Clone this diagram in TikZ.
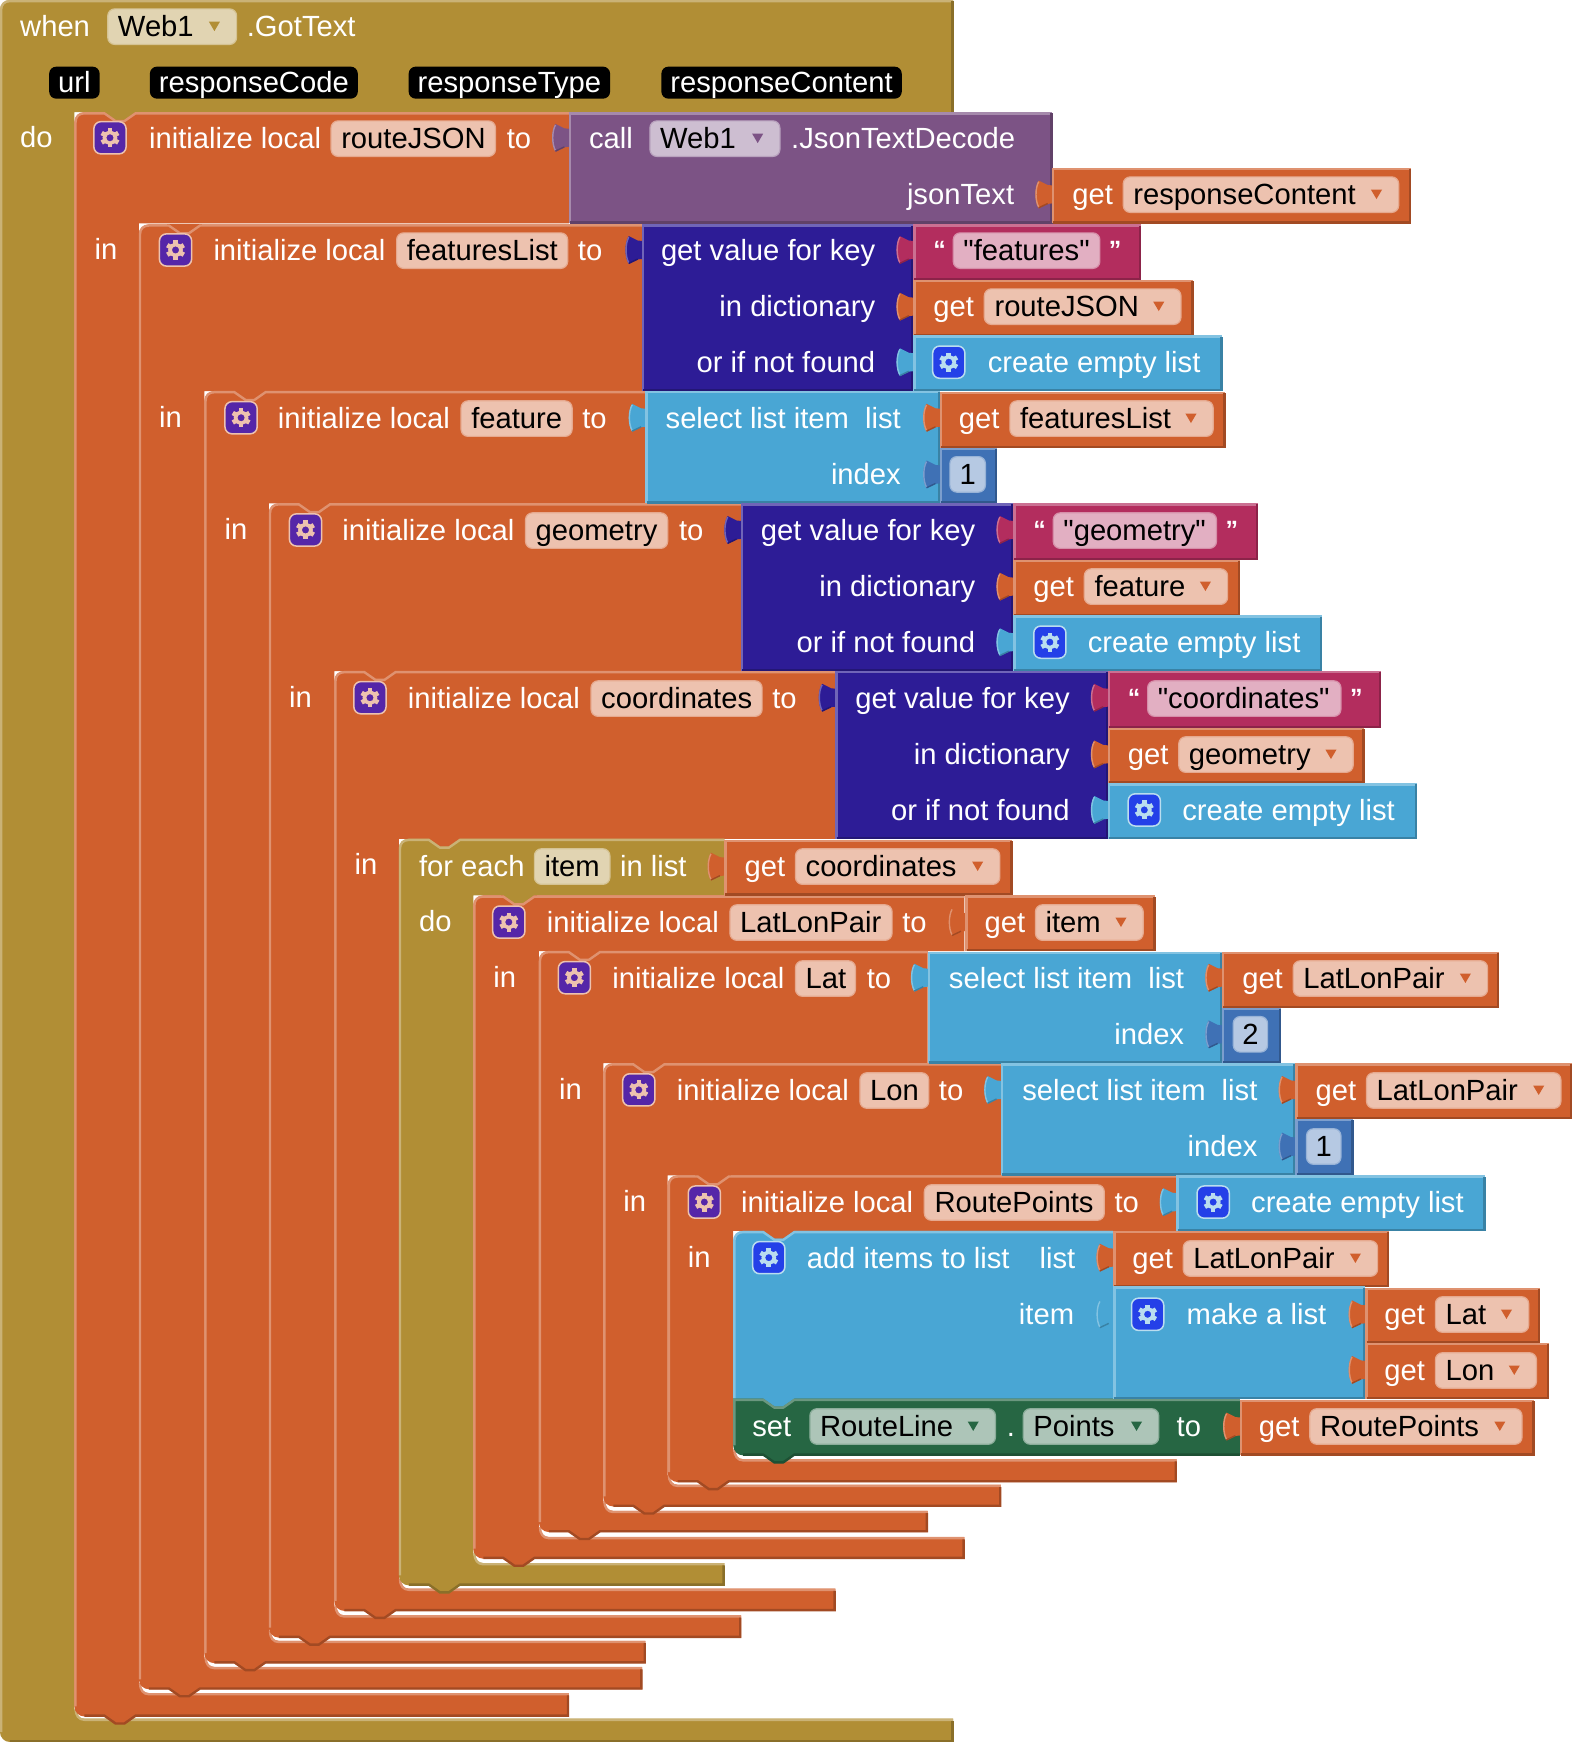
\documentclass[tikz,border=0pt]{standalone}
\usepackage{fontspec}
\newfontfamily\blockfont{Liberation Sans}

\newcommand{\blkcolor}[2]{%
  \definecolor{#1}{HTML}{#2}%
  \colorlet{#1Hi}{#1!68!white}%
  \colorlet{#1Lo}{#1!78!black}%
  \colorlet{#1Fd}{#1!38!white}}
\blkcolor{blkOr}{D05F2D}
\blkcolor{blkOl}{B18E35}
\blkcolor{blkPu}{7C5385}
\blkcolor{blkDk}{2D1C96}
\blkcolor{blkCr}{B32D5E}
\blkcolor{blkBl}{49A6D4}
\blkcolor{blkNm}{3F71B5}
\blkcolor{blkGr}{266643}
\definecolor{gearPu}{HTML}{5526A8}
\definecolor{gearBl}{HTML}{2440E8}

\tikzset{
  edge/.style={line width=2.4pt},
  txt/.style={text=white,anchor=west,inner sep=0pt,text height=20pt,text depth=0pt,font=\blockfont\fontsize{29.2}{34}\selectfont},
  txtr/.style={txt,anchor=east},
  quot/.style={txt,yshift=2.5pt,font=\blockfont\bfseries\fontsize{25}{30}\selectfont},
  fieldtxt/.style={txt,text=black},
  fieldbg/.style={fill=#1Fd,draw=#1Fd!75!#1,line width=1.2pt,rounded corners=7pt},
  argbox/.style={txt,anchor=center,fill=black,rounded corners=7pt,inner xsep=9pt,inner ysep=6pt}
}

% statement with a row on top and a bar below
\newcommand{\stmtblock}[9]{% colour, left, top, right, row bottom, inner x, bar top, bar bottom, colour behind the notch
  \fill[#9] (#2+25,#3-.5) rectangle (#2+57,#3+9);
  \fill[#1] (#2,#3+9) .. controls (#2,#3+4) and (#2+4,#3) .. (#2+9,#3) -- (#2+27,#3) -- (#2+37,#3+7) -- (#2+45,#3+7) -- (#2+55,#3) -- (#4,#3) -- (#4,#5) -- (#6,#5) -- (#6,#7-9) .. controls (#6,#7-4) and (#6+4,#7) .. (#6+9,#7) -- (#4,#7) -- (#4,#8) -- (#2+55,#8) -- (#2+45,#8+7) -- (#2+37,#8+7) -- (#2+27,#8) -- (#2+9,#8) .. controls (#2+4,#8) and (#2,#8-4) .. (#2,#8-9) -- cycle;
  \draw[#1Hi,edge] (#2+1,#8-9) -- (#2+1,#3+9) .. controls (#2+1,#3+4) and (#2+4,#3+1) .. (#2+9,#3+1) -- (#2+27,#3+1) -- (#2+37,#3+8) -- (#2+45,#3+8) -- (#2+55,#3+1) -- (#4,#3+1);
  \draw[#1Hi,edge] (#6+1,#7-9) .. controls (#6+1,#7-3) and (#6+4,#7+1) .. (#6+9,#7+1) -- (#4,#7+1);
  \draw[#1Lo,edge] (#2+9,#8-.7) -- (#2+27,#8-.7) -- (#2+37,#8+6.3) -- (#2+45,#8+6.3) -- (#2+55,#8-.7) -- (#4-.7,#8-.7) -- (#4-.7,#7+2);
}
% value block with its tab on the left
\newcommand{\valblock}[6]{% colour, left, top, right, bottom, tab y
  \fill[#1] (#2,#3) rectangle (#4,#5);
  \fill[#1] (#2+1,#6-8) -- (#2-4,#6-8.5) -- (#2-12,#6-12.5) .. controls (#2-16,#6-6) and (#2-16,#6+6) .. (#2-12,#6+12.5) -- (#2-4,#6+8.5) -- (#2+1,#6+8) -- cycle;
  \draw[#1Hi,edge] (#2+1,#5) -- (#2+1,#3+1) -- (#4,#3+1);
  \draw[#1Hi,line width=1.4pt] (#2-12,#6-11.5) .. controls (#2-15.3,#6-6) and (#2-15.3,#6+6) .. (#2-12,#6+11.5);
  \draw[#1Lo,line width=1.4pt] (#2-12,#6+12) -- (#2-4,#6+8.2);
  \draw[#1Lo,edge] (#2+1,#5-.7) -- (#4-.7,#5-.7) -- (#4-.7,#3+1);
}
\newcommand{\textfield}[6]{% colour, name, left, right, y, text
  \draw[fieldbg=#1] (#3,#5-16) rectangle (#4,#5+16);
  \node[fieldtxt] (#2) at (#3+9,#5) {#6};
}
\newcommand{\dropfield}[6]{% same, with the small arrow
  \textfield{#1}{#2}{#3}{#4}{#5}{#6}
  \fill[#1] (#4-25,#5-4.5) -- (#4-15,#5-4.5) -- (#4-20,#5+4) -- cycle;
}
\newcommand{\gearicon}[5]{% x, y, back, gear, border
  \draw[fill=#3,draw=#5,line width=1.5pt,rounded corners=7pt] (#1-14.5,#2-14.5) rectangle (#1+14.5,#2+14.5);
  \begin{scope}[shift={(#1,#2)}]
    \foreach \a in {30,90,...,330}
      \draw[#4,line width=4.6pt] (\a:5) -- (\a:8.6);
    \draw[#4,line width=3.6pt] (0,0) circle (5);
  \end{scope}
}
\newcommand{\gearor}[2]{\gearicon{#1}{#2}{gearPu}{blkOrFd}{blkOrFd}}
\newcommand{\gearbl}[2]{\gearicon{#1}{#2}{gearBl}{blkBlFd}{blkBlFd}}

\begin{document}
\begin{tikzpicture}[x=1.111pt,y=-1.111pt]
  \useasboundingbox (0,0) rectangle (1415,1568);

  % event block
  \fill[blkOl] (0,9) .. controls (0,4) and (4,0) .. (9,0) -- (858,0) -- (858,101) -- (67,101) -- (67,1538) .. controls (67,1543) and (71,1547) .. (76,1547) -- (858,1547) -- (858,1568) -- (9,1568) .. controls (4,1568) and (0,1564) .. (0,1559) -- cycle;
  \draw[blkOlHi,edge] (1,1559) -- (1,9) .. controls (1,4) and (4,1) .. (9,1) -- (858,1);
  \draw[blkOlHi,edge] (68,1538) .. controls (68,1544) and (71,1548) .. (76,1548) -- (858,1548);
  \draw[blkOlLo,edge] (9,1567.3) -- (857.3,1567.3) -- (857.3,1549);
  \draw[blkOlLo,edge] (857.3,1) -- (857.3,101);

  % nested statements, outer first
  \stmtblock{blkOr}{67}{101}{512}{201}{125}{1524}{1545}{blkOl}
  \stmtblock{blkOr}{125}{202}{578}{352}{184}{1500.5}{1520.5}{blkOr}
  \stmtblock{blkOr}{184}{352}{581}{453}{242}{1477}{1497}{blkOr}
  \stmtblock{blkOr}{242}{453}{667}{604}{301}{1454}{1474}{blkOr}
  \stmtblock{blkOr}{301}{604}{752}{755}{359}{1430}{1450}{blkOr}
  \stmtblock{blkOl}{359}{755}{652}{806}{426}{1407}{1427}{blkOr}
  \stmtblock{blkOr}{426}{806}{868}{856}{485}{1383.5}{1403}{blkOl}
  \stmtblock{blkOr}{485}{856}{835}{957}{543}{1360}{1379}{blkOr}
  \stmtblock{blkOr}{543}{957}{901}{1058}{601}{1336.5}{1356}{blkOr}
  \stmtblock{blkOr}{601}{1058}{1059}{1108}{660}{1313.5}{1334}{blkOr}

  % add items
  \fill[blkOr] (685,1107.5) rectangle (717,1117);
  \fill[blkBl] (660,1117) .. controls (660,1112) and (664,1108) .. (669,1108) -- (687,1108) -- (697,1115) -- (705,1115) -- (715,1108) -- (1002,1108) -- (1002,1268) -- (660,1268) -- cycle;
  \draw[blkBlHi,edge] (661,1259) -- (661,1117) .. controls (661,1112) and (664,1109) .. (669,1109) -- (687,1109) -- (697,1116) -- (705,1116) -- (715,1109) -- (1002,1109);
  % set
  \fill[blkGr] (660,1259) -- (687,1259) -- (697,1266) -- (705,1266) -- (715,1259) -- (1116,1259) -- (1116,1310) -- (715,1310) -- (705,1317) -- (697,1317) -- (687,1310) -- (669,1310) .. controls (664,1310) and (660,1306) .. (660,1301) -- cycle;
  \draw[blkGrHi,edge] (661,1301) -- (661,1260) -- (687,1260) -- (697,1267) -- (705,1267) -- (715,1260) -- (1116,1260);
  \draw[blkGrLo,edge] (669,1309.3) -- (687,1309.3) -- (697,1316.3) -- (705,1316.3) -- (715,1309.3) -- (1116,1309.3);

  % value blocks
  \valblock{blkPu}{512}{101}{947}{201}{124}
  \valblock{blkOr}{947}{151}{1270}{201}{175}
  \valblock{blkDk}{578}{202}{822}{352}{225}
  \valblock{blkCr}{822}{202}{1027}{252}{225}
  \valblock{blkOr}{822}{252}{1074}{302}{276}
  \valblock{blkBl}{822}{302}{1100}{352}{326}
  \valblock{blkBl}{581}{352}{846}{453}{376}
  \valblock{blkOr}{846}{353}{1103}{403}{376}
  \valblock{blkNm}{846}{403}{897}{453}{427}
  \valblock{blkDk}{667}{453}{912}{604}{477}
  \valblock{blkCr}{912}{453}{1132}{504}{477}
  \valblock{blkOr}{912}{504}{1116}{554}{528}
  \valblock{blkBl}{912}{554}{1190}{604}{578}
  \valblock{blkDk}{752}{604}{997}{755}{628}
  \valblock{blkCr}{997}{604}{1243}{655}{628}
  \valblock{blkOr}{997}{655}{1228}{705}{679}
  \valblock{blkBl}{997}{705}{1275}{755}{729}
  \valblock{blkOr}{652}{756}{911}{806}{780}
  \valblock{blkOr}{869}{806}{1040}{856}{830}
  \valblock{blkBl}{835}{857}{1100}{957}{880}
  \valblock{blkOr}{1100}{857}{1349}{907}{880}
  \valblock{blkNm}{1100}{907}{1153}{957}{931}
  \valblock{blkBl}{901}{957}{1166}{1058}{981}
  \valblock{blkOr}{1166}{957}{1415}{1007}{981}
  \valblock{blkNm}{1166}{1007}{1218}{1058}{1032}
  \valblock{blkBl}{1059}{1058}{1337}{1108}{1082}
  \valblock{blkOr}{1002}{1108}{1250}{1158}{1132}
  \valblock{blkBl}{1002}{1158}{1229}{1259}{1183}
  \valblock{blkOr}{1229}{1159}{1386}{1209}{1183}
  \valblock{blkOr}{1229}{1209}{1394}{1259}{1233}
  \valblock{blkOr}{1116}{1260}{1381}{1310}{1284}

  % when row
  \node[txt] (whenlbl) at (18,24) {when};
  \dropfield{blkOl}{webA}{97}{213}{24}{Web1}
  \node[txt] (gottext) at (222,24) {.GotText};
  \node[argbox] (argurl) at (67,74.4) {url};
  \node[argbox] (argcode) at (228.5,74.4) {responseCode};
  \node[argbox] (argtype) at (458.5,74.4) {responseType};
  \node[argbox] (argcontent) at (703.5,74.4) {responseContent};
  \node[txt] (dolblA) at (18,124) {do};

  % routeJSON
  \gearor{99}{124}
  \node[txt] (initA) at (134,124.8) {initialize local};
  \textfield{blkOr}{nameA}{298}{446}{124.8}{routeJSON}
  \node[txt] (toA) at (456,124.8) {to};
  \node[txt] (calllbl) at (530,124.8) {call};
  \dropfield{blkPu}{webB}{585}{702}{124.8}{Web1}
  \node[txt] (decode) at (712,124.8) {.JsonTextDecode};
  \node[txtr] (jsontext) at (913,175.2) {jsonText};
  \node[txt] (getA) at (965,175.2) {get};
  \dropfield{blkOr}{varA}{1011}{1259}{175.2}{responseContent}

  % featuresList
  \node[txt] (inA) at (85,224.6) {in};
  \gearor{158}{225}
  \node[txt] (initB) at (192,225.6) {initialize local};
  \textfield{blkOr}{nameB}{357}{511}{225.6}{featuresList}
  \node[txt] (toB) at (520,225.6) {to};
  \node[txtr] (keyA) at (788,225.6) {get value for key};
  \node[quot] (qlA) at (840,225.6) {“};
  \textfield{blkCr}{strA}{858}{990}{225.6}{"features"}
  \node[quot] (qrA) at (998,225.6) {”};
  \node[txtr] (dictA) at (788,276) {in dictionary};
  \node[txt] (getB) at (840,276) {get};
  \dropfield{blkOr}{varB}{886}{1063}{276}{routeJSON}
  \node[txtr] (notfA) at (788,326.4) {or if not found};
  \gearbl{854}{326}
  \node[txt] (emptyA) at (889,326.4) {create empty list};

  % feature
  \node[txt] (inB) at (143,375.8) {in};
  \gearor{217}{376}
  \node[txt] (initC) at (250,376.8) {initialize local};
  \textfield{blkOr}{nameC}{415}{515}{376.8}{feature}
  \node[txt] (toC) at (524,376.8) {to};
  \node[txtr] (selA) at (811,376.8) {select list item\hspace{8pt} list};
  \node[txt] (getC) at (863,376.8) {get};
  \dropfield{blkOr}{varC}{909}{1092}{376.8}{featuresList}
  \node[txtr] (idxA) at (811,427.2) {index};
  \draw[fieldbg=blkNm] (855,411) rectangle (887,443);
  \node[fieldtxt,anchor=center] (numA) at (871,427.2) {1};

  % geometry
  \node[txt] (inC) at (202,476.6) {in};
  \gearor{275}{477}
  \node[txt] (initD) at (308,477.6) {initialize local};
  \textfield{blkOr}{nameD}{473}{601}{477.6}{geometry}
  \node[txt] (toD) at (611,477.6) {to};
  \node[txtr] (keyB) at (878,477.6) {get value for key};
  \node[quot] (qlB) at (930,477.6) {“};
  \textfield{blkCr}{strB}{948}{1095}{477.6}{"geometry"}
  \node[quot] (qrB) at (1103,477.6) {”};
  \node[txtr] (dictB) at (878,528) {in dictionary};
  \node[txt] (getD) at (930,528) {get};
  \dropfield{blkOr}{varD}{976}{1105}{528}{feature}
  \node[txtr] (notfB) at (878,578.4) {or if not found};
  \gearbl{945}{578}
  \node[txt] (emptyB) at (979,578.4) {create empty list};

  % coordinates
  \node[txt] (inD) at (260,627.8) {in};
  \gearor{333}{628}
  \node[txt] (initE) at (367,628.8) {initialize local};
  \textfield{blkOr}{nameE}{532}{686}{628.8}{coordinates}
  \node[txt] (toE) at (695,628.8) {to};
  \node[txtr] (keyC) at (963,628.8) {get value for key};
  \node[quot] (qlC) at (1015,628.8) {“};
  \textfield{blkCr}{strC}{1033}{1207}{628.8}{"coordinates"}
  \node[quot] (qrC) at (1215,628.8) {”};
  \node[txtr] (dictC) at (963,679.2) {in dictionary};
  \node[txt] (getE) at (1015,679.2) {get};
  \dropfield{blkOr}{varE}{1061}{1218}{679.2}{geometry}
  \node[txtr] (notfC) at (963,729.6) {or if not found};
  \gearbl{1030}{729}
  \node[txt] (emptyC) at (1064,729.6) {create empty list};

  % for each
  \node[txt] (inE) at (319,778.5) {in};
  \node[txt] (forlbl) at (377,780) {for each};
  \textfield{blkOl}{nameF}{481}{549}{780}{item}
  \node[txt] (inlist) at (558,780) {in list};
  \node[txt] (getF) at (670,780) {get};
  \dropfield{blkOr}{varF}{716}{900}{780}{coordinates}
  \node[txt] (dolblB) at (377,829.4) {do};

  % LatLonPair
  \gearor{458}{830}
  \node[txt] (initG) at (492,830.4) {initialize local};
  \textfield{blkOr}{nameG}{657}{803}{830.4}{LatLonPair}
  \node[txt] (toG) at (812,830.4) {to};
  \node[txt] (getG) at (886,830.4) {get};
  \dropfield{blkOr}{varG}{932}{1029}{830.4}{item}

  % Lat
  \node[txt] (inG) at (444,879.8) {in};
  \gearor{517}{880}
  \node[txt] (initH) at (551,880.8) {initialize local};
  \textfield{blkOr}{nameH}{716}{770}{880.8}{Lat}
  \node[txt] (toH) at (780,880.8) {to};
  \node[txtr] (selB) at (1066,880.8) {select list item\hspace{8pt} list};
  \node[txt] (getH) at (1118,880.8) {get};
  \dropfield{blkOr}{varH}{1164}{1339}{880.8}{LatLonPair}
  \node[txtr] (idxB) at (1066,931.2) {index};
  \draw[fieldbg=blkNm] (1110,915) rectangle (1141,947);
  \node[fieldtxt,anchor=center] (numB) at (1125.5,931.2) {2};

  % Lon
  \node[txt] (inH) at (503,980.6) {in};
  \gearor{575}{981}
  \node[txt] (initI) at (609,981.6) {initialize local};
  \textfield{blkOr}{nameI}{774}{836}{981.6}{Lon}
  \node[txt] (toI) at (845,981.6) {to};
  \node[txtr] (selC) at (1132,981.6) {select list item\hspace{8pt} list};
  \node[txt] (getI) at (1184,981.6) {get};
  \dropfield{blkOr}{varI}{1230}{1405}{981.6}{LatLonPair}
  \node[txtr] (idxC) at (1132,1032) {index};
  \draw[fieldbg=blkNm] (1176,1016) rectangle (1207,1048);
  \node[fieldtxt,anchor=center] (numC) at (1191.5,1032) {1};

  % RoutePoints
  \node[txt] (inI) at (561,1081.4) {in};
  \gearor{634}{1082}
  \node[txt] (initJ) at (667,1082.4) {initialize local};
  \textfield{blkOr}{nameJ}{832}{994}{1082.4}{RoutePoints}
  \node[txt] (toJ) at (1003,1082.4) {to};
  \gearbl{1092}{1082}
  \node[txt] (emptyD) at (1126,1082.4) {create empty list};

  % add items, make a list
  \node[txt] (inJ) at (619,1131.8) {in};
  \gearbl{692}{1132}
  \node[txt] (addlbl) at (726,1132.8) {add items to list};
  \node[txtr] (listlbl) at (968,1132.8) {list};
  \node[txt] (getJ) at (1019,1132.8) {get};
  \dropfield{blkOr}{varJ}{1065}{1240}{1132.8}{LatLonPair}
  \node[txtr] (itemlbl) at (967,1183.2) {item};
  \gearbl{1033}{1183}
  \node[txt] (makelbl) at (1068,1183.2) {make a list};
  \node[txt] (getK) at (1246,1183.2) {get};
  \dropfield{blkOr}{varK}{1292}{1376}{1183.2}{Lat}
  \node[txt] (getL) at (1246,1233.6) {get};
  \dropfield{blkOr}{varL}{1292}{1383}{1233.6}{Lon}

  % set
  \node[txt] (setlbl) at (677,1284) {set};
  \dropfield{blkGr}{compA}{729}{896}{1284}{RouteLine}
  \node[txt] (dotlbl) at (906,1284) {.};
  \dropfield{blkGr}{propA}{921}{1043}{1284}{Points}
  \node[txt] (toK) at (1059,1284) {to};
  \node[txt] (getM) at (1133,1284) {get};
  \dropfield{blkOr}{varM}{1179}{1370}{1284}{RoutePoints}
\end{tikzpicture}
\end{document}
